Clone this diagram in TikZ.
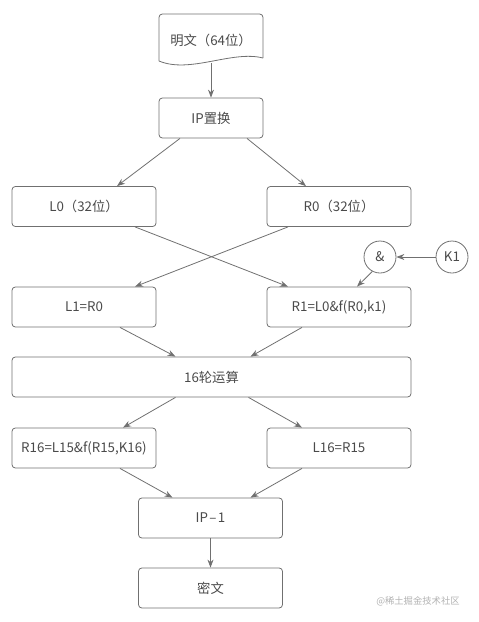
\documentclass[tikz,border=0pt]{standalone}
\usepackage{fontspec}
\setmainfont{Noto Sans CJK SC}
\usetikzlibrary{arrows.meta,calc}
\definecolor{linegray}{HTML}{707070}
\definecolor{textgray}{HTML}{4A4A4A}
\tikzset{
  box/.style={draw=linegray, rounded corners=2.5pt, line width=0.6pt, text=textgray,
    minimum width=108pt, minimum height=30pt, inner sep=0pt},
  ring/.style={draw=linegray, circle, line width=0.6pt, text=textgray, minimum size=24pt, inner sep=0pt},
  flow/.style={draw=linegray, line width=0.6pt, -{Stealth[length=6pt,width=4.5pt]}},
}
\begin{document}
\begin{tikzpicture}[x=0.75pt, y=-0.75pt, font=\fontsize{10}{12}\selectfont]
	\useasboundingbox (0,0) rectangle (479,622);
	% plaintext, document shape
	\draw[linegray, line width=0.6pt, rounded corners=2.5pt] (159,61) -- (159,14) -- (263,14) -- (263,58);
	\draw[linegray, line width=0.6pt] (263,58) .. controls (232,50) and (190,74) .. (159,61);
	\node[text=textgray] (plain) at (211,40) {明文（64位）};
	\coordinate (plainbot) at (211,63);
	
	\node[box, minimum width=78pt] (ip) at (211,118) {IP置换};
	\node[box] (l0) at (84,206.5) {L0（32位）};
	\node[box] (r0) at (339,206.5) {R0（32位）};
	\node[ring] (amp) at (380,257) {\&};
	\node[ring] (k1) at (452,257) {K1};
	\node[box] (l1) at (84,307) {L1=R0};
	\node[box] (r1) at (339,307) {R1=L0\&f(R0,k1)};
	\node[box, minimum width=299.25pt] (rounds) at (211.5,377) {16轮运算};
	\node[box] (r16) at (84,448) {R16=L15\&f(R15,K16)};
	\node[box] (l16) at (339,448) {L16=R15};
	\node[box] (ipinv) at (210.5,518) {IP\kern1pt–\kern1pt1};
	\node[box] (cipher) at (210.5,588) {密文};
	\node[text=black!30, font=\fontsize{7}{8}\selectfont] (mark) at (418,601) {@稀土掘金技术社区};
	
	\draw[flow] (plainbot) -- (ip.north);
	\draw[flow] ($(ip.south)+(-31,0)$) -- ($(l0.north)+(33,0)$);
	\draw[flow] ($(ip.south)+(36,0)$) -- ($(r0.north)+(-33,0)$);
	\draw[flow] ($(l0.south)+(51,0)$) -- ($(r1.north)+(-51,0)$);
	\draw[flow] ($(r0.south)+(-51,0)$) -- ($(l1.north)+(51,0)$);
	\draw[flow] (k1.west) -- (amp.east);
	\draw[flow] (amp.-118) -- ($(r1.north)+(18,0)$);
	\draw[flow] ($(l1.south)+(36,0)$) -- ($(rounds.north)+(-36,0)$);
	\draw[flow] ($(r1.south)+(-37,0)$) -- ($(rounds.north)+(39,0)$);
	\draw[flow] ($(rounds.south)+(-36,0)$) -- ($(r16.north)+(39,0)$);
	\draw[flow] ($(rounds.south)+(37,0)$) -- ($(l16.north)+(-37,0)$);
	\draw[flow] ($(r16.south)+(36,0)$) -- ($(ipinv.north)+(-38,0)$);
	\draw[flow] ($(l16.south)+(-37,0)$) -- ($(ipinv.north)+(40,0)$);
	\draw[flow] (ipinv) -- (cipher);
\end{tikzpicture}
\end{document}
